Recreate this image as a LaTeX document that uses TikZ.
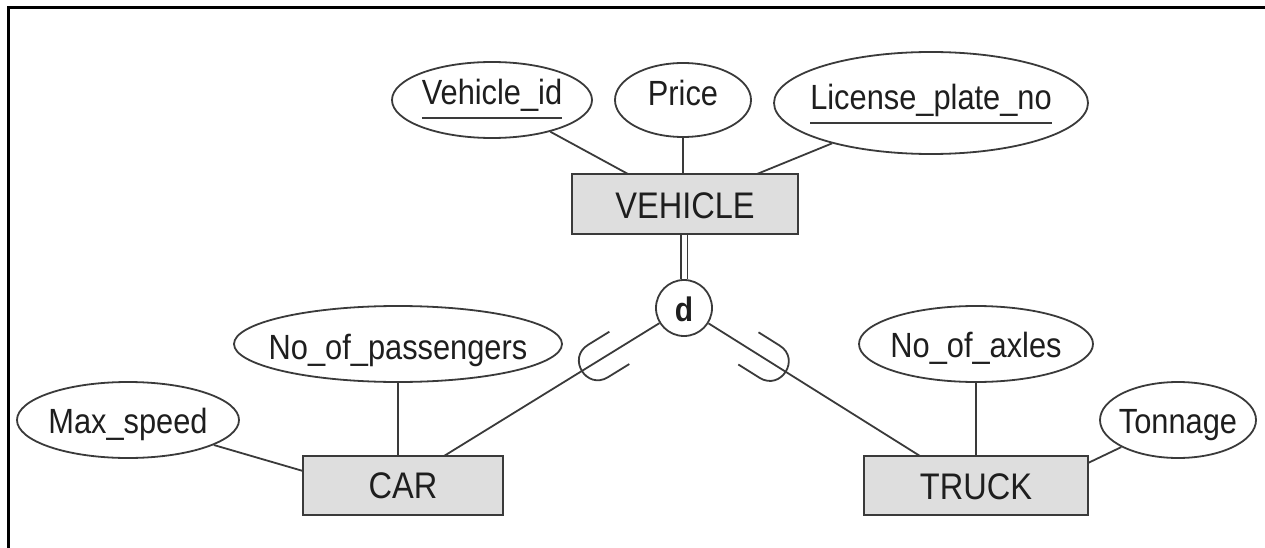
\documentclass[tikz,border=0pt]{standalone}
\usepackage{fontspec}
\setmainfont{Liberation Sans}
\newfontfamily\erfont{Liberation Sans}[FakeStretch=0.88]
\usetikzlibrary{shapes.geometric,calc}

\definecolor{inkc}{HTML}{3A3A3A}
\definecolor{entfill}{HTML}{DEDEDE}
\definecolor{txtc}{HTML}{1E1E1E}

% text set on the node centre, baseline lowered by #1, taking no room
\newcommand\erlabel[2]{\smash{\makebox[0pt]{\raisebox{#1}{#2}}}}
% key attribute: underlined name
\newcommand\keyname[1]{\setbox0=\hbox{#1}\rlap{\color{inkc}\rule[-14pt]{\wd0}{2.4pt}}\box0}

\begin{document}
\begin{tikzpicture}[x=1pt,y=-1pt,
  link/.style={draw=inkc,line width=1.8pt},
  attr/.style={ellipse,draw=inkc,line width=1.8pt,fill=white,inner sep=0pt,
    text=txtc,font={\erfont\fontsize{35}{40}\selectfont}},
  entity/.style={rectangle,draw=inkc,line width=1.8pt,fill=entfill,inner sep=0pt,
    text=txtc,font={\erfont\fontsize{37}{42}\selectfont}},
  disj/.style={circle,draw=inkc,line width=1.8pt,fill=white,inner sep=0pt,
    minimum size=56pt,text=txtc,font={\erfont\bfseries\fontsize{34}{40}\selectfont}},
  frameline/.style={draw=black,line width=3pt}]
\useasboundingbox (0,0) rectangle (1265,548);

% outer frame (top and left edges)
\draw[frameline] (1265,8) -- (8,8) -- (8,548);

% entities
\node[entity,minimum width=226pt,minimum height=60pt] (veh) at (685,204) {\erlabel{-14pt}{VEHICLE}};
\node[entity,minimum width=200pt,minimum height=59pt] (car) at (403,485.5) {\erlabel{-13pt}{CAR}};
\node[entity,minimum width=224pt,minimum height=59pt] (truck) at (976,485.5) {\erlabel{-14pt}{TRUCK}};

% disjointness circle
\node[disj] (d) at (684,308) {\erlabel{-13pt}{d}};

% attributes of VEHICLE
\node[attr,minimum width=200pt,minimum height=76pt] (vid) at (492,100) {\erlabel{-5pt}{\keyname{Vehicle\_id}}};
\node[attr,minimum width=136pt,minimum height=74pt] (price) at (683,100) {\erlabel{-6pt}{Price}};
\node[attr,minimum width=314pt,minimum height=102pt] (lic) at (931,103) {\erlabel{-7pt}{\keyname{License\_plate\_no}}};

% attributes of CAR and TRUCK
\node[attr,minimum width=328pt,minimum height=76pt] (pass) at (398,344) {\erlabel{-15pt}{No\_of\_passengers}};
\node[attr,minimum width=222pt,minimum height=76pt] (maxs) at (128,420) {\erlabel{-13pt}{Max\_speed}};
\node[attr,minimum width=234pt,minimum height=76pt] (axl) at (976,344) {\erlabel{-13pt}{No\_of\_axles}};
\node[attr,minimum width=156pt,minimum height=76pt] (ton) at (1178,420) {\erlabel{-13pt}{Tonnage}};

% attachment points on the boxes
\coordinate (vehA) at (628,174);
\coordinate (vehC) at (757,174);
\coordinate (carA) at (303,471);
\coordinate (carD) at (444,456);
\coordinate (trkD) at (920,456);
\coordinate (trkT) at (1088,463);

% attribute links
\draw[link] (vid) -- (vehA);
\draw[link] (price) -- (price |- veh.north);
\draw[link] (lic) -- (vehC);
\draw[link] (maxs) -- (carA);
\draw[link] (pass) -- (pass |- car.north);
\draw[link] (axl) -- (axl |- truck.north);
\draw[link] (ton) -- (trkT);

% specialization: total participation and subclass links
\draw[link,double=white,double distance=5pt] (d.north) -- (d.north |- veh.south);
\draw[link] (d) -- (carD);
\draw[link] (d) -- (trkD);

% subset marks on the subclass links
\begin{scope}[shift={(d.center)},rotate=211.66]
  \draw[link] (76,19) -- (101,19) .. controls (126.3,19) and (126.3,-19) .. (101,-19) -- (76,-19);
\end{scope}
\begin{scope}[shift={(d.center)},rotate=-32.09]
  \draw[link] (76,19) -- (101,19) .. controls (126.3,19) and (126.3,-19) .. (101,-19) -- (76,-19);
\end{scope}
\end{tikzpicture}
\end{document}
